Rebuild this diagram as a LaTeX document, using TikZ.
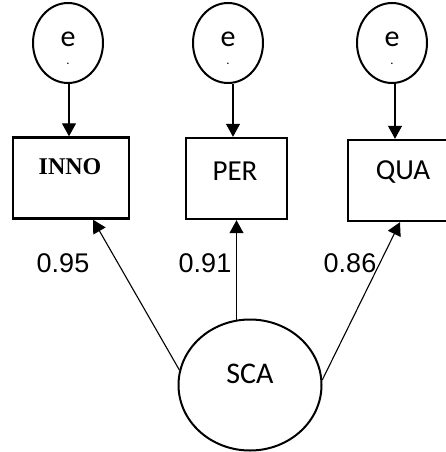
\documentclass[tikz,border=0pt]{standalone}
\usepackage{fontspec}
\setmainfont{Carlito}
\newfontfamily\arialf{Liberation Sans}
\newfontfamily\tnrf{Liberation Serif}
\usetikzlibrary{arrows.meta,shapes.geometric}
\begin{document}
\begin{tikzpicture}[x=1pt,y=-1pt,
  errc/.style={ellipse,draw,line width=2pt,minimum width=70pt,minimum height=80pt,inner sep=0pt},
  etext/.style={font=\fontsize{30}{30}\selectfont,inner sep=0pt,anchor=base},
  edot/.style={font=\fontsize{10}{10}\bfseries\selectfont,inner sep=0pt,anchor=base},
  obs/.style={rectangle,draw,line width=2.4pt,minimum height=81pt,inner sep=0pt},
  obstext/.style={font=\fontsize{29}{29}\selectfont,inner sep=0pt},
  lat/.style={ellipse,draw,line width=2pt,minimum width=143pt,minimum height=131pt,inner sep=0pt},
  coef/.style={font=\arialf\fontsize{27}{27}\selectfont,inner sep=0pt},
  arr/.style={line width=1.1pt,-{Triangle[length=13pt,width=14pt]}}
]
\useasboundingbox (0,0) rectangle (446,452);
% error terms
\node[errc] (e1) at (68,43) {};
\node[errc] (e2) at (228,43) {};
\node[errc] (e3) at (392,43) {};
\node[etext] (e1t) at (68,47) {e};
\node[etext] (e2t) at (228,47) {e};
\node[etext] (e3t) at (392,47) {e};
\node[edot] (e1d) at (68,64) {.};
\node[edot] (e2d) at (228,64) {.};
\node[edot] (e3d) at (392,64) {.};
% observed
\node[obs,minimum width=116pt] (inno) at (71,178) {};
\node[obs,minimum width=101pt] (per) at (236.5,178.5) {};
\node[obs,minimum width=104pt] (qua) at (400,180.5) {};
\node[obstext,font=\tnrf\bfseries\fontsize{24}{24}\selectfont] (innot) at (70,167) {INNO};
\node[obstext] (pert) at (235,171) {PER};
\node[obstext] (quat) at (403,172) {QUA};
% latent
\node[lat] (sca) at (250,385) {};
\node[obstext,font=\fontsize{30}{30}\selectfont] (scat) at (250,374) {SCA};
% arrows from errors
\draw[arr] ([xshift=1pt]e1.south) -- ([xshift=1pt]e1.south |- inno.north);
\draw[arr] ([xshift=5pt]e2.south) -- ([xshift=5pt]e2.south |- per.north);
\draw[arr] ([xshift=3pt]e3.south) -- ([xshift=3pt]e3.south |- qua.north);
% loadings
\draw[arr] (sca.168) -- ([xshift=22pt]inno.south);
\draw[arr] ([yshift=-1pt]per.south |- sca.north) -- (per.south);
\draw[arr] (sca.4) -- (qua.south);
\node[coef] (l1) at (63,263) {0.95};
\node[coef] (l2) at (205,263) {0.91};
\node[coef] (l3) at (350,263) {0.86};
\end{tikzpicture}
\end{document}
